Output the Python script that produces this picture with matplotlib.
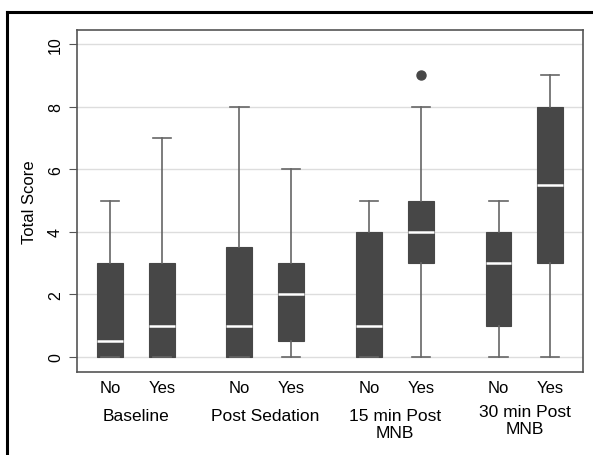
import matplotlib.pyplot as plt
from matplotlib.lines import Line2D
from matplotlib.transforms import blended_transform_factory

plt.rcParams['font.family'] = ['Liberation Sans', 'DejaVu Sans']

groups = ['Baseline', 'Post Sedation', '15 min Post\nMNB', '30 min Post\nMNB']
subs = ['No', 'Yes']
# whislo, q1, median, q3, whishi per box
whislo = [0, 0, 0, 0, 0, 0, 0, 0]
q1 = [0, 0, 0, 0.5, 0, 3, 1, 3]
med = [0.5, 1, 1, 2, 1, 4, 3, 5.5]
q3 = [3, 3, 3.5, 3, 4, 5, 4, 8]
whishi = [5, 7, 8, 6, 5, 8, 5, 9]
fliers = [[], [], [], [], [], [9], [], []]

pos = [1, 2, 3.5, 4.5, 6, 7, 8.5, 9.5]
label_y = [417, 417, 425, 421]  # pixel centres of group labels

W, H = 593, 456
fig = plt.figure(figsize=(W / 100, H / 100), dpi=100)
ax = fig.add_axes([77 / W, 1 - 373 / H, (583 - 77) / W, (373 - 31) / H])

stats = []
for i in range(8):
    stats.append(dict(whislo=whislo[i], q1=q1[i], med=med[i], q3=q3[i],
                      whishi=whishi[i], fliers=fliers[i]))

ax.bxp(stats, positions=pos, widths=0.5, patch_artist=True, showfliers=True,
       boxprops=dict(facecolor='#474747', edgecolor='#474747', linewidth=0.8),
       medianprops=dict(color='white', linewidth=1.8),
       whiskerprops=dict(color='#666666', linewidth=1.2),
       capprops=dict(color='#666666', linewidth=1.2),
       capwidths=0.35,
       flierprops=dict(marker='o', markerfacecolor='#474747', markeredgecolor='#474747',
                       markersize=6.5))

ax.set_ylim(-0.48, 10.45)
ax.set_xlim(0.365, 10.13)
ax.set_yticks([0, 2, 4, 6, 8, 10])
ax.set_yticklabels(['0', '2', '4', '6', '8', '10'], rotation=90, va='center', fontsize=11.5)
ax.yaxis.grid(True, color='#dddddd', linewidth=1)
ax.set_axisbelow(True)
ax.set_ylabel('Total Score', fontsize=12, labelpad=8)
ax.tick_params(axis='y', length=6, color='#555555', pad=4)

ax.set_xticks(pos)
ax.set_xticklabels(subs * 4, fontsize=12)
ax.tick_params(axis='x', length=0, pad=6)

for s in ax.spines.values():
    s.set_color('#555555')
    s.set_linewidth(1.2)

tr = blended_transform_factory(ax.transData, fig.transFigure)
for g in range(4):
    cx = (pos[2 * g] + pos[2 * g + 1]) / 2
    fig.text(cx, 1 - label_y[g] / H, groups[g], ha='center', va='center', fontsize=12.5,
             linespacing=1.15, transform=tr)

# outer frame (left + top)
fig.add_artist(Line2D([6.5 / W, 6.5 / W], [0, 1 - 13 / H], transform=fig.transFigure,
                      color='black', linewidth=2.2))
fig.add_artist(Line2D([6.5 / W, 1], [1 - 13 / H, 1 - 13 / H], transform=fig.transFigure,
                      color='black', linewidth=2.2))

fig.savefig('out.png', dpi=100)
